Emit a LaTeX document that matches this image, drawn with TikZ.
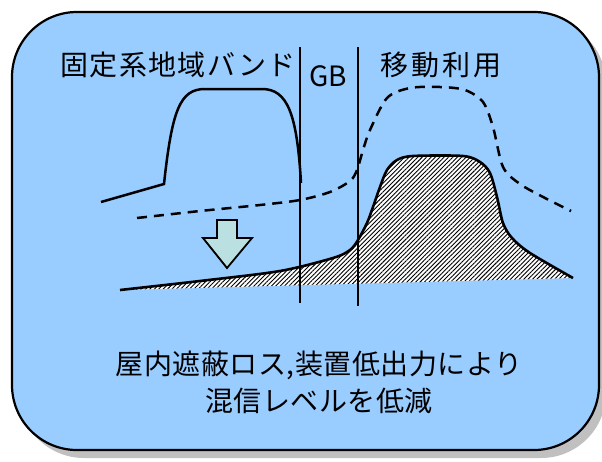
\documentclass[tikz,border=0pt]{standalone}
\usepackage{fontspec}
\newfontfamily\jpfont{Noto Sans CJK JP}
\usetikzlibrary{calc}
\usetikzlibrary{patterns.meta}
\definecolor{boxblue}{RGB}{153,204,255}
\definecolor{arrowcyan}{RGB}{187,224,226}
\definecolor{shadowgray}{RGB}{192,192,192}

\begin{document}
\begin{tikzpicture}[font=\jpfont\fontsize{28}{37}\selectfont, x=1pt, y=-1pt, every node/.style={inner sep=0pt,outer sep=0pt}]
      \useasboundingbox (0,0) rectangle (602,461);
      \fill[shadowgray, rounded corners=65pt] (19,19) rectangle (606,458);
      \draw[fill=boxblue, line width=2.2pt, rounded corners=65pt] (12,12) rectangle (599,450);

      \draw (178,65) node (fixed) {\addfontfeatures{LetterSpace=5}固定系地域バンド};
      \draw (328,76) node (gb) {GB};
      \draw (441,65) node (mobile) {\addfontfeatures{LetterSpace=10}移動利用};
      \draw (319,382) node[align=center] (note) {\addfontfeatures{LetterSpace=2}屋内遮蔽ロス,装置低出力により\\\addfontfeatures{LetterSpace=2}混信レベルを低減};

      \path[pattern={Lines[angle=45,distance=3.1pt,line width=0.9pt]}, preaction={fill=white}]
        plot[smooth] coordinates {(120,290) (200,281) (280,271) (333,258) (350,250) (358,240) (367,223) (373,207) (380,187) (387,170) (397,160) (413,156) (463,156) (480,162) (490,173) (497,197) (503,223) (512,238) (530,253) (573,278)} -- cycle;
      \draw[line width=2.6pt]
        plot[smooth] coordinates {(120,290) (200,281) (280,271) (333,258) (350,250) (358,240) (367,223) (373,207) (380,187) (387,170) (397,160) (413,156) (463,156) (480,162) (490,173) (497,197) (503,223) (512,238) (530,253) (573,278)};

      \draw[line width=2.5pt] (101,202) -- (164,184) .. controls (172,110) and (180,89) .. (205,89) -- (262,89) .. controls (288,89) and (297,115) .. (301,183);

      \draw[line width=2.5pt, dash pattern=on 10pt off 7pt]
        plot[smooth] coordinates {(137,218) (200,211) (260,205) (300,200) (330,192) (350,181) (357,170) (363,150) (370,130) (387,98) (410,88) (440,87) (465,90) (483,102) (493,127) (503,167) (520,184) (545,198) (571,211)};

      \draw[line width=2.2pt] (300,47) -- (300,303);
      \draw[line width=2.2pt] (358,47) -- (358,306);

      \draw[fill=arrowcyan, line width=1.8pt] (217,220) -- (237,220) -- (237,238) -- (252,238) -- (227,268) -- (203,238) -- (217,238) -- cycle;
    \end{tikzpicture}
\end{document}
